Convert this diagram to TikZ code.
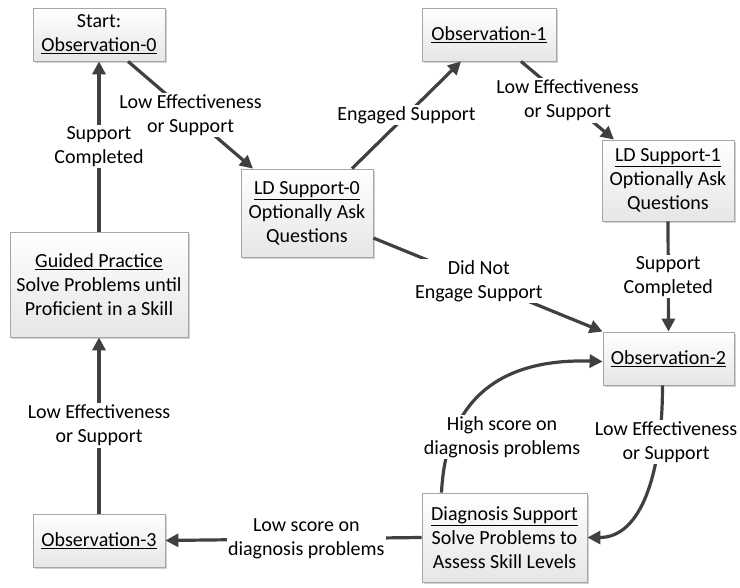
\documentclass[tikz,border=0pt]{standalone}
\usepackage{fontspec}
\setmainfont{Carlito}
\usetikzlibrary{arrows.meta,shadows}
\definecolor{edgegray}{HTML}{404040}
\definecolor{boxline}{HTML}{A6A6A6}
\definecolor{boxbottom}{HTML}{E6E6E6}
\tikzset{
  statebox/.style={draw=boxline, line width=0.8pt, top color=white, bottom color=boxbottom,
    align=center, inner sep=0pt, font=\fontsize{20}{24}\selectfont,
    drop shadow={shadow xshift=2pt, shadow yshift=-2pt, fill=black, opacity=0.18}},
  flow/.style={draw=edgegray, line width=3.2pt, -{Triangle[length=13pt,width=13pt]}},
  lbl/.style={fill=white, align=center, inner sep=1.5pt, font=\fontsize{20}{24}\selectfont},
}
\begin{document}
\begin{tikzpicture}[x=1pt,y=-1pt]
\useasboundingbox (0,0) rectangle (740,588);

% states
\node[statebox, minimum width=132pt, minimum height=53pt] (obs0) at (99,34.5) {Start:\\\underline{Observation-0}};
\node[statebox, minimum width=134pt, minimum height=53pt] (obs1) at (489,34.5) {\underline{Observation-1}};
\node[statebox, minimum width=132pt, minimum height=88pt] (ld0) at (307,213) {\underline{LD Support-0}\\Optionally Ask\\Questions};
\node[statebox, minimum width=132pt, minimum height=81pt] (ld1) at (668,180.5) {\underline{LD Support-1}\\Optionally Ask\\Questions};
\node[statebox, minimum width=131pt, minimum height=53pt] (obs2) at (668.5,358.5) {\underline{Observation-2}};
\node[statebox, minimum width=165pt, minimum height=89pt] (diag) at (504.5,537.5) {\underline{Diagnosis Support}\\Solve Problems to\\Assess Skill Levels};
\node[statebox, minimum width=178pt, minimum height=105pt] (gp) at (99,284.5) {\underline{Guided Practice}\\Solve Problems until\\Proficient in a Skill};
\node[statebox, minimum width=132pt, minimum height=53pt] (obs3) at (99,540.5) {\underline{Observation-3}};

% transitions
\draw[flow] ([xshift=29pt]obs0.south) -- ([xshift=-54pt]ld0.north)
  node[lbl, midway] (l1) {Low Effectiveness\\or Support};
\draw[flow] ([xshift=45pt]ld0.north) -- ([xshift=-28pt]obs1.south)
  node[lbl, midway] (l2) {Engaged Support};
\draw[flow] ([xshift=32pt]obs1.south) -- ([xshift=-54pt]ld1.north)
  node[lbl, midway] (l3) {Low Effectiveness\\or Support};
\draw[flow] (ld1.south) -- (obs2.north)
  node[lbl, midway] (l4) {Support\\Completed};
\draw[flow] ([yshift=-25pt]ld0.east) -- (obs2.north west)
  node[lbl, pos=0.46] (l5) {Did Not\\Engage Support};
\draw[flow] ([xshift=-6pt]obs2.south) .. controls +(0,85) and +(55,0) .. (diag.east);
\node[lbl] (l6) at (666,442) {Low Effectiveness\\or Support};
\draw[flow] ([xshift=-63pt]diag.north) .. controls +(5,-100) and +(-95,-3) .. ([yshift=-3pt]obs2.west);
\node[lbl] (l7) at (502,437) {High score on\\diagnosis problems};
\draw[flow] (diag.west) -- (obs3.east)
  node[lbl, pos=0.45] (l8) {Low score on\\diagnosis problems};
\draw[flow] (obs3.north) -- (gp.south)
  node[lbl, midway] (l9) {Low Effectiveness\\or Support};
\draw[flow] (gp.north) -- (obs0.south)
  node[lbl, midway] (l10) {Support\\Completed};
\end{tikzpicture}
\end{document}
